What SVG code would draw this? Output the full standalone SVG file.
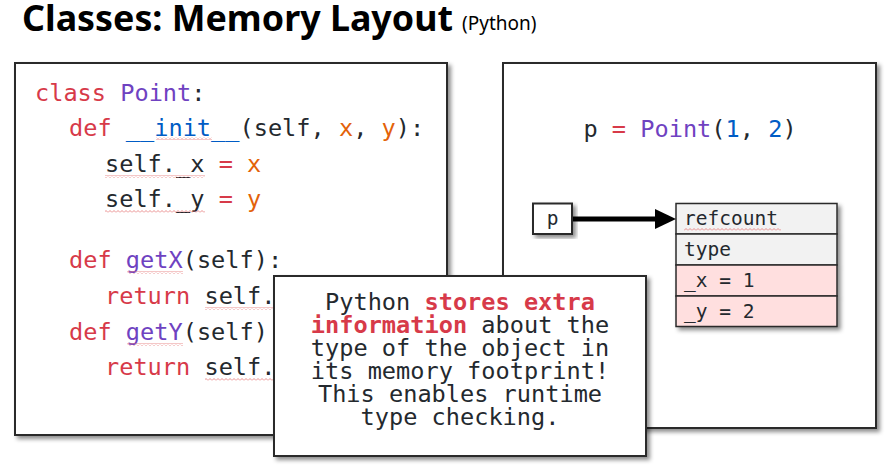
<svg xmlns="http://www.w3.org/2000/svg" width="889" height="470" viewBox="0 0 889 470">
<style>
.code{font-family:"DejaVu Sans Mono","Liberation Mono",monospace;font-size:23.6px;fill:#24292e;white-space:pre}
.k{fill:#d73a49}.c{fill:#6f42c1}.v{fill:#e36209}.b{fill:#005cc5}
.box{fill:#fff;stroke:#2b2b2b;stroke-width:2}
.cell{font-family:"DejaVu Sans Mono","Liberation Mono",monospace;font-size:19.5px;fill:#24292e;white-space:pre}
.sq{fill:url(#sq)}
</style>
<defs>
<filter id="sh" x="-10%" y="-10%" width="125%" height="125%">
<feDropShadow dx="3" dy="3" stdDeviation="2" flood-color="#000" flood-opacity="0.45"/>
</filter>
<pattern id="sq" width="4" height="3" patternUnits="userSpaceOnUse">
<path d="M0,2.5 L2,0.5 L4,2.5" fill="none" stroke="#e57373" stroke-width="0.8"/>
</pattern>
</defs>
<rect width="889" height="470" fill="#fff"/>
<g id="title">
<text x="22" y="31" font-family="'Noto Sans','Open Sans',sans-serif" font-weight="bold" font-size="35.8" fill="#000">Classes: Memory Layout</text>
<text x="462" y="30" font-family="'Noto Sans','Open Sans',sans-serif" font-size="19" fill="#000">(Python)</text>
</g>
<g id="code-panel">
<rect class="box" x="15" y="63" width="432" height="372" filter="url(#sh)"/>
<text class="code" x="35" y="101"><tspan class="k">class</tspan> <tspan class="c">Point</tspan>:</text>
<text class="code" x="69" y="136"><tspan class="k">def</tspan> <tspan class="b">__init__</tspan>(self, <tspan class="v">x</tspan>, <tspan class="v">y</tspan>):</text>
<text class="code" x="105" y="171.5">self._x <tspan class="k">=</tspan> <tspan class="v">x</tspan></text>
<text class="code" x="105" y="206.5">self._y <tspan class="k">=</tspan> <tspan class="v">y</tspan></text>
<text class="code" x="69" y="268"><tspan class="k">def</tspan> <tspan class="c">getX</tspan>(self):</text>
<text class="code" x="105" y="304"><tspan class="k">return</tspan> self._x</text>
<text class="code" x="69" y="340"><tspan class="k">def</tspan> <tspan class="c">getY</tspan>(self):</text>
<text class="code" x="105" y="375"><tspan class="k">return</tspan> self._y</text>
<rect class="sq" x="156" y="137" width="56" height="3"/>
<rect class="sq" x="105" y="175" width="100" height="3"/>
<rect class="sq" x="105" y="210" width="100" height="3"/>
<rect class="sq" x="127" y="271" width="56" height="3"/>
<rect class="sq" x="205" y="307" width="70" height="3"/>
<rect class="sq" x="127" y="343" width="56" height="3"/>
<rect class="sq" x="205" y="378" width="70" height="3"/>
</g>
<g id="memory-panel">
<rect class="box" x="503" y="63" width="373" height="365" filter="url(#sh)"/>
<text class="code" x="690" y="137" text-anchor="middle">p <tspan class="k">=</tspan> <tspan class="c">Point</tspan>(<tspan class="b">1</tspan>, <tspan class="b">2</tspan>)</text>
</g>
<g id="var-p">
<rect class="box" x="533" y="203.5" width="39" height="30.5" filter="url(#sh)"/>
<text class="cell" x="552.5" y="225" text-anchor="middle">p</text>
</g>
<g id="object">
<g filter="url(#sh)">
<rect x="676" y="203.5" width="161" height="30.5" fill="#f2f2f2" stroke="#2b2b2b" stroke-width="1.5"/>
<rect x="676" y="234" width="161" height="31" fill="#f2f2f2" stroke="#2b2b2b" stroke-width="1.5"/>
<rect x="676" y="265" width="161" height="31" fill="#ffdfdf" stroke="#2b2b2b" stroke-width="1.5"/>
<rect x="676" y="296" width="161" height="30.5" fill="#ffdfdf" stroke="#2b2b2b" stroke-width="1.5"/>
</g>
<text class="cell" x="684" y="225">refcount</text>
<rect class="sq" x="684" y="228" width="97" height="3"/>
<text class="cell" x="684" y="256">type</text>
<text class="cell" x="684" y="287">_x = 1</text>
<text class="cell" x="684" y="318">_y = 2</text>
</g>
<g id="connectors">
<line x1="573" y1="219" x2="656" y2="219" stroke="#000" stroke-width="5"/>
<path d="M655,209 L676,219 L655,229 Z" fill="#000"/>
</g>
<g id="callout">
<rect class="box" x="274" y="276" width="372" height="180" filter="url(#sh)"/>
<text class="code" x="460" y="310" text-anchor="middle">Python <tspan class="k" font-weight="bold">stores extra</tspan></text>
<text class="code" x="460" y="333" text-anchor="middle"><tspan class="k" font-weight="bold">information</tspan> about the</text>
<text class="code" x="460" y="356" text-anchor="middle">type of the object in</text>
<text class="code" x="460" y="379" text-anchor="middle">its memory footprint!</text>
<text class="code" x="460" y="402" text-anchor="middle">This enables runtime</text>
<text class="code" x="460" y="424.5" text-anchor="middle">type checking.</text>
</g>
</svg>
